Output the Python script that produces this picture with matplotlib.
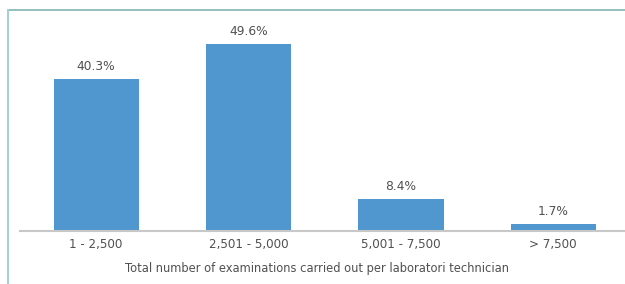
import matplotlib
matplotlib.use("Agg")
import matplotlib.pyplot as plt
from matplotlib.lines import Line2D

categories = ["1 - 2,500", "2,501 - 5,000", "5,001 - 7,500", "> 7,500"]
percentages = [40.3, 49.6, 8.4, 1.7]
xlabel = "Total number of examinations carried out per laboratori technician"


def main():
    fig = plt.figure(figsize=(6.25, 2.84), dpi=100)
    ax = fig.add_axes([0.032, 0.187, 0.975, 0.743])

    positions = range(len(categories))
    ax.bar(positions, percentages, width=0.56, color="#5096cf")
    for x, v in zip(positions, percentages):
        ax.text(x, v + 1.7, f"{v}%", ha="center", va="bottom",
                fontsize=8.8, color="#505050")

    ax.set_xlim(-0.5, len(categories) - 0.5)
    ax.set_ylim(0, 56)
    ax.set_yticks([])
    ax.set_xticks(list(positions))
    ax.set_xticklabels(categories, fontsize=8.6, color="#505050")
    ax.tick_params(axis="x", length=0, pad=5)
    ax.set_xlabel(xlabel, fontsize=8.3, color="#505050")
    ax.xaxis.set_label_coords(0.488, -0.148)
    for side in ["top", "right", "left"]:
        ax.spines[side].set_visible(False)
    ax.spines["bottom"].set_color("#c8c8c8")
    ax.spines["bottom"].set_linewidth(1.5)

    # frame lines around the figure
    fig.add_artist(Line2D([0.013, 1.0], [0.965, 0.965], color="#7fb5b3",
                          linewidth=1.2, transform=fig.transFigure))
    fig.add_artist(Line2D([0.013, 0.013], [0.0, 0.965], color="#a8cfd6",
                          linewidth=1.5, transform=fig.transFigure))

    fig.savefig("out.png", dpi=100)


if __name__ == "__main__":
    main()
